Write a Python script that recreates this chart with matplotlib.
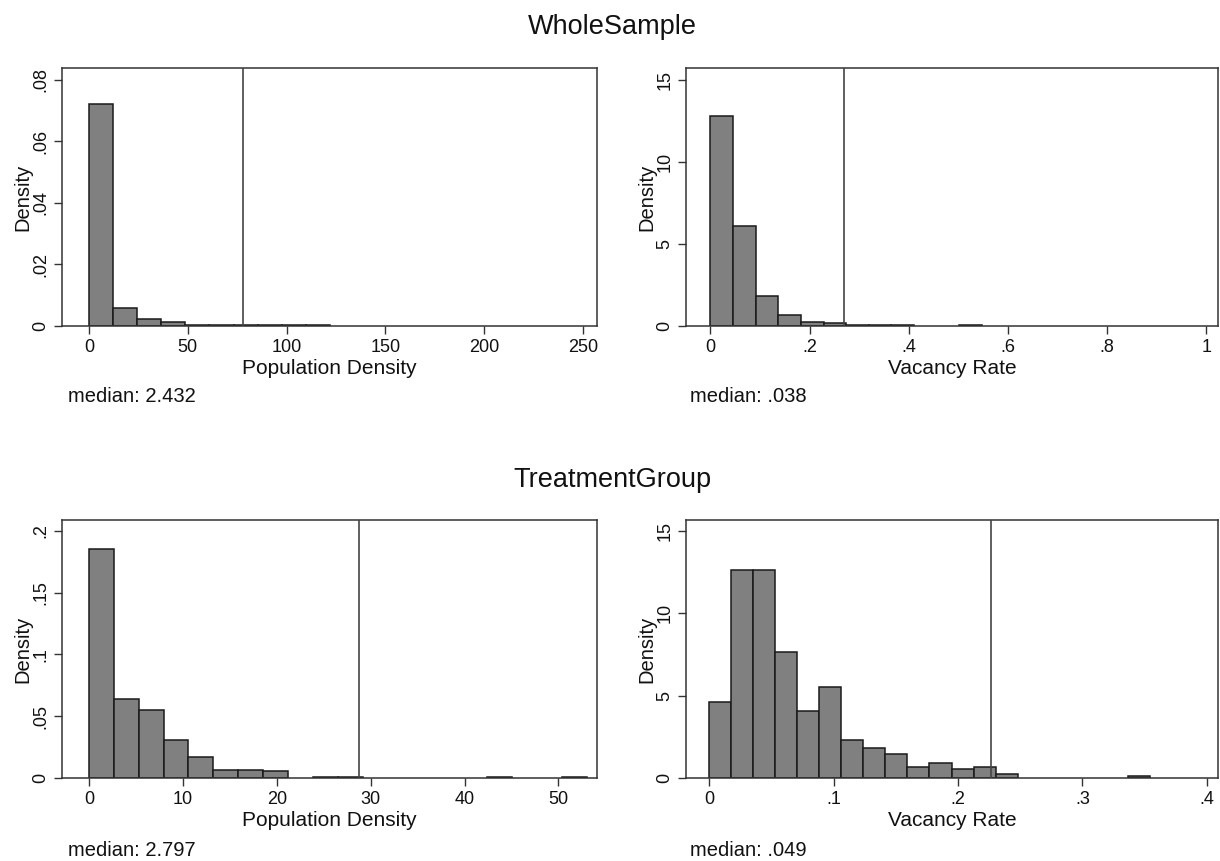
import numpy as np
import matplotlib
matplotlib.use("Agg")
import matplotlib.pyplot as plt

plt.rcParams['font.family'] = ['Liberation Sans', 'DejaVu Sans']

# ---- data ----
group_titles = ["WholeSample", "TreatmentGroup"]

# Whole sample, population density (bin width ~12.2)
ws_pop_width = 12.2
ws_pop_heights = [0.0721, 0.0060, 0.0023, 0.0013, 0.0003, 0.0003, 0.0003, 0.0003,
                  0.0003, 0.0003, 0, 0, 0, 0, 0, 0, 0, 0, 0, 0]
ws_pop_line = 77.7
ws_pop_median = "median: 2.432"
ws_pop_xticks = [0, 50, 100, 150, 200, 250]
ws_pop_xticklabels = ["0", "50", "100", "150", "200", "250"]
ws_pop_yticks = [0, 0.02, 0.04, 0.06, 0.08]
ws_pop_yticklabels = ["0", ".02", ".04", ".06", ".08"]

# Whole sample, vacancy rate (bin width ~0.0456)
ws_vac_width = 0.0456
ws_vac_heights = [12.76, 6.10, 1.83, 0.67, 0.24, 0.16, 0.05, 0.05, 0.05, 0, 0,
                  0.05, 0, 0, 0, 0, 0, 0, 0, 0, 0, 0]
ws_vac_line = 0.2697
ws_vac_median = "median: .038"
ws_vac_xticks = [0, 0.2, 0.4, 0.6, 0.8, 1.0]
ws_vac_xticklabels = ["0", ".2", ".4", ".6", ".8", "1"]
ws_vac_yticks = [0, 5, 10, 15]
ws_vac_yticklabels = ["0", "5", "10", "15"]

# Treatment group, population density (bin width ~2.65)
tg_pop_width = 2.65
tg_pop_heights = [0.1856, 0.0642, 0.0550, 0.0306, 0.0173, 0.0068, 0.0068, 0.0057,
                  0, 0.0012, 0.0012, 0, 0, 0, 0, 0, 0.0012, 0, 0, 0.0012]
tg_pop_line = 28.8
tg_pop_median = "median: 2.797"
tg_pop_xticks = [0, 10, 20, 30, 40, 50]
tg_pop_xticklabels = ["0", "10", "20", "30", "40", "50"]
tg_pop_yticks = [0, 0.05, 0.10, 0.15, 0.20]
tg_pop_yticklabels = ["0", ".05", ".1", ".15", ".2"]

# Treatment group, vacancy rate (bin width ~0.0177)
tg_vac_width = 0.0177
tg_vac_heights = [4.63, 12.66, 12.66, 7.64, 4.07, 5.55, 2.30, 1.83, 1.46, 0.67,
                  0.93, 0.57, 0.69, 0.22, 0, 0, 0, 0, 0, 0.10]
tg_vac_line = 0.2265
tg_vac_median = "median: .049"
tg_vac_xticks = [0, 0.1, 0.2, 0.3, 0.4]
tg_vac_xticklabels = ["0", ".1", ".2", ".3", ".4"]
tg_vac_yticks = [0, 5, 10, 15]
tg_vac_yticklabels = ["0", "5", "10", "15"]

# ---- layout ----
W, H = 1220, 861
fig = plt.figure(figsize=(W / 100, H / 100), dpi=100)

def frac_rect(l, r, t, b):
    return [l / W, 1 - b / H, (r - l) / W, (b - t) / H]

panels = [
    dict(rect=frac_rect(62, 597, 68, 326), width=ws_pop_width, heights=ws_pop_heights,
         line=ws_pop_line, xlabel="Population Density", median=ws_pop_median,
         xlim=(-13.6, 257), ylim=(0, 0.0839), xticks=ws_pop_xticks, xtl=ws_pop_xticklabels,
         yticks=ws_pop_yticks, ytl=ws_pop_yticklabels, mx=68, my=397),
    dict(rect=frac_rect(686, 1218, 68, 326), width=ws_vac_width, heights=ws_vac_heights,
         line=ws_vac_line, xlabel="Vacancy Rate", median=ws_vac_median,
         xlim=(-0.0494, 1.0236), ylim=(0, 15.71), xticks=ws_vac_xticks, xtl=ws_vac_xticklabels,
         yticks=ws_vac_yticks, ytl=ws_vac_yticklabels, mx=690, my=397),
    dict(rect=frac_rect(62, 597, 520, 778), width=tg_pop_width, heights=tg_pop_heights,
         line=tg_pop_line, xlabel="Population Density", median=tg_pop_median,
         xlim=(-2.86, 54.1), ylim=(0, 0.2089), xticks=tg_pop_xticks, xtl=tg_pop_xticklabels,
         yticks=tg_pop_yticks, ytl=tg_pop_yticklabels, mx=68, my=851),
    dict(rect=frac_rect(686, 1218, 520, 778), width=tg_vac_width, heights=tg_vac_heights,
         line=tg_vac_line, xlabel="Vacancy Rate", median=tg_vac_median,
         xlim=(-0.0188, 0.409), ylim=(0, 15.67), xticks=tg_vac_xticks, xtl=tg_vac_xticklabels,
         yticks=tg_vac_yticks, ytl=tg_vac_yticklabels, mx=690, my=851),
]

fill = "#808080"
edge = "#1a1a1a"
txt = "#111111"

for p in panels:
    ax = fig.add_axes(p["rect"])
    h = np.array(p["heights"], dtype=float)
    edges = np.arange(len(h)) * p["width"]
    keep = h > 0
    ax.bar(edges[keep], h[keep], width=p["width"], align="edge",
           color=fill, edgecolor=edge, linewidth=1.1, zorder=2)
    ax.axvline(p["line"], color="#444444", linewidth=1.2, zorder=3)
    ax.set_xlim(*p["xlim"])
    ax.set_ylim(*p["ylim"])
    ax.set_xticks(p["xticks"])
    ax.set_xticklabels(p["xtl"])
    ax.set_yticks(p["yticks"])
    ax.set_yticklabels(p["ytl"], rotation=90, va="center")
    ax.tick_params(direction="out", length=6, width=1, colors="#333333",
                   labelsize=13, labelcolor=txt, pad=3)
    for s in ax.spines.values():
        s.set_linewidth(1.1)
        s.set_color("#333333")
    ax.set_xlabel(p["xlabel"], fontsize=15, color=txt, labelpad=2.5)
    ax.set_ylabel("Density", fontsize=14.5, color=txt, labelpad=0)
    fig.text(p["mx"] / W, 1 - p["my"] / H, p["median"], fontsize=14.5,
             color=txt, ha="left", va="center")

fig.text(612 / W, 1 - 27 / H, group_titles[0], fontsize=19.5, ha="center", va="center", color=txt)
fig.text(612 / W, 1 - 480 / H, group_titles[1], fontsize=19.5, ha="center", va="center", color=txt)

fig.savefig("out.png", dpi=100, facecolor="white")
